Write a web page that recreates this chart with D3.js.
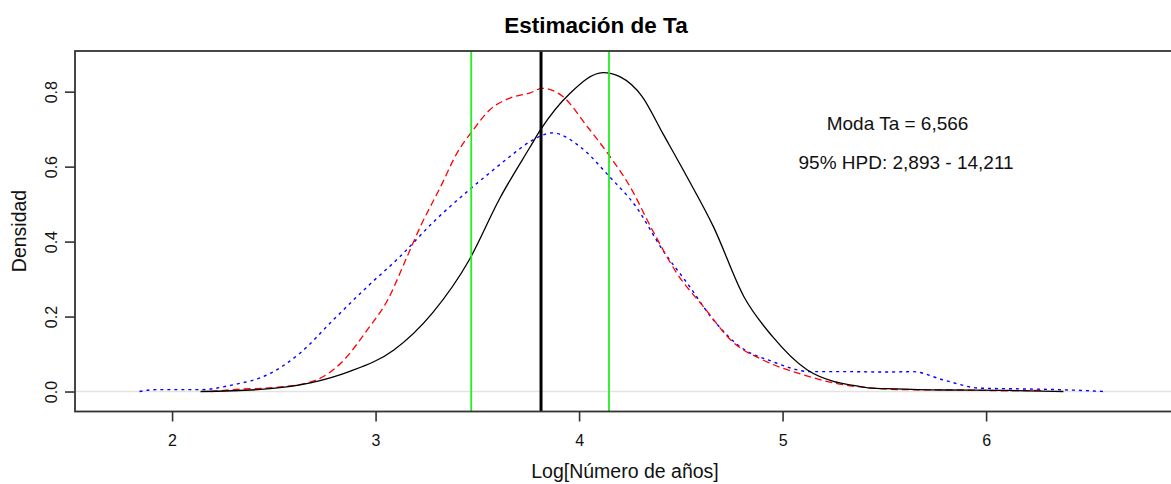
<!DOCTYPE html>
<html>
<head>
<meta charset="utf-8">
<script src="https://cdn.jsdelivr.net/npm/d3@7"></script>
<style>
  body { margin: 0; background: #fff; }
  svg { display: block; font-family: "Liberation Sans", Arial, sans-serif; }
</style>
</head>
<body>
<svg id="chart" width="1171" height="484"></svg>
<script>
// density estimates
const blackX = [2.14, 2.42, 2.68, 2.87, 3.09, 3.28, 3.46, 3.61, 3.76, 3.81, 3.956, 4.118, 4.20, 4.31, 4.41, 4.53, 4.66, 4.81, 4.95, 5.12, 5.25, 5.33, 5.42, 5.55, 5.8, 6.1, 6.38];
const blackY = [0, 0.005, 0.023, 0.053, 0.111, 0.21, 0.351, 0.515, 0.653, 0.698, 0.796, 0.851, 0.84, 0.787, 0.69, 0.573, 0.44, 0.253, 0.147, 0.058, 0.027, 0.018, 0.01, 0.007, 0.004, 0.003, 0];

const redX = [2.19, 2.30, 2.55, 2.71, 2.83, 2.96, 3.06, 3.155, 3.22, 3.32, 3.40, 3.48, 3.56, 3.66, 3.76, 3.82, 3.92, 4.04, 4.14, 4.25, 4.36, 4.48, 4.61, 4.76, 4.90, 5.10, 5.25, 5.42, 5.6, 5.9, 6.1, 6.27];
const redY = [0, 0.005, 0.013, 0.031, 0.076, 0.165, 0.245, 0.36, 0.44, 0.547, 0.636, 0.698, 0.751, 0.783, 0.797, 0.809, 0.787, 0.707, 0.636, 0.547, 0.431, 0.316, 0.227, 0.13, 0.085, 0.045, 0.023, 0.01, 0.005, 0.004, 0.002, 0.003];

const blueX = [1.84, 1.92, 2.14, 2.30, 2.47, 2.63, 2.79, 2.96, 3.12, 3.28, 3.46, 3.56, 3.66, 3.76, 3.87, 4.005, 4.15, 4.28, 4.41, 4.53, 4.66, 4.79, 4.95, 5.14, 5.33, 5.5, 5.64, 5.79, 5.97, 6.17, 6.36, 6.58];
const blueY = [0, 0.005, 0.005, 0.018, 0.045, 0.103, 0.19, 0.28, 0.36, 0.45, 0.538, 0.583, 0.627, 0.667, 0.69, 0.653, 0.573, 0.493, 0.378, 0.29, 0.191, 0.12, 0.08, 0.053, 0.053, 0.052, 0.053, 0.031, 0.009, 0.007, 0.005, 0];

const modeLine = 3.813;
const hpdLines = [3.47, 4.147];

const xTicks = [2, 3, 4, 5, 6];
const yTicks = [0, 0.2, 0.4, 0.6, 0.8];

const title = "Estimación de Ta";
const xLabel = "Log[Número de años]";
const yLabel = "Densidad";
const notes = [
  { text: "Moda Ta = 6,566", x: 5.565, y: 0.715 },
  { text: "95% HPD: 2,893 - 14,211", x: 5.607, y: 0.612 }
];

const svg = d3.select("#chart");
const plotLeft = 75, plotTop = 51, plotBottom = 411.5, plotRight = 1190;

const x = d3.scaleLinear().domain([1.523, 7.002]).range([plotLeft, plotRight]);
const y = d3.scaleLinear().domain([-0.0533, 0.9085]).range([plotBottom, plotTop]);

const toPoints = (xs, ys) => xs.map((v, i) => [v, ys[i]]);
const line = d3.line()
  .x(d => x(d[0]))
  .y(d => y(d[1]))
  .curve(d3.curveMonotoneX);

// zero reference
svg.append("line")
  .attr("x1", plotLeft).attr("x2", plotRight)
  .attr("y1", y(0)).attr("y2", y(0))
  .attr("stroke", "#e3e3e3")
  .attr("stroke-width", 1.5);

svg.append("path")
  .datum(toPoints(blueX, blueY))
  .attr("d", line)
  .attr("fill", "none")
  .attr("stroke", "#0000ff")
  .attr("stroke-width", 1.4)
  .attr("stroke-dasharray", "3,4");

svg.append("path")
  .datum(toPoints(redX, redY))
  .attr("d", line)
  .attr("fill", "none")
  .attr("stroke", "#ff0000")
  .attr("stroke-width", 1.3)
  .attr("stroke-dasharray", "7,4");

svg.append("path")
  .datum(toPoints(blackX, blackY))
  .attr("d", line)
  .attr("fill", "none")
  .attr("stroke", "#000")
  .attr("stroke-width", 1.3);

svg.selectAll(".hpd")
  .data(hpdLines)
  .enter().append("line")
  .attr("class", "hpd")
  .attr("x1", d => x(d)).attr("x2", d => x(d))
  .attr("y1", plotTop).attr("y2", plotBottom)
  .attr("stroke", "#22ee22")
  .attr("stroke-width", 1.8);

svg.append("line")
  .attr("x1", x(modeLine)).attr("x2", x(modeLine))
  .attr("y1", plotTop).attr("y2", plotBottom)
  .attr("stroke", "#000")
  .attr("stroke-width", 3);

// box
svg.append("rect")
  .attr("x", plotLeft).attr("y", plotTop)
  .attr("width", plotRight - plotLeft).attr("height", plotBottom - plotTop)
  .attr("fill", "none")
  .attr("stroke", "#333")
  .attr("stroke-width", 1.8);

const xAxis = svg.append("g")
  .attr("transform", "translate(0," + plotBottom + ")")
  .call(d3.axisBottom(x).tickValues(xTicks).tickSize(10).tickPadding(13).tickFormat(d3.format("d")));
xAxis.select(".domain").remove();
xAxis.selectAll("line").attr("stroke", "#333").attr("stroke-width", 1.6);
xAxis.selectAll("text").attr("font-size", 16).attr("fill", "#111").attr("font-family", null);

const yAxis = svg.append("g")
  .attr("transform", "translate(" + plotLeft + ",0)")
  .call(d3.axisLeft(y).tickValues(yTicks).tickSize(10).tickFormat(d3.format(".1f")));
yAxis.select(".domain").remove();
yAxis.selectAll("line").attr("stroke", "#333").attr("stroke-width", 1.6);
yAxis.selectAll("text")
  .attr("font-size", 16).attr("fill", "#111").attr("font-family", null)
  .attr("transform", "rotate(-90)")
  .attr("x", 0).attr("y", -18.5).attr("dy", 0)
  .attr("text-anchor", "middle");

svg.append("text")
  .attr("x", 596).attr("y", 32.5)
  .attr("text-anchor", "middle")
  .attr("font-size", 22.5).attr("font-weight", "bold")
  .text(title);

svg.append("text")
  .attr("x", 625).attr("y", 478)
  .attr("text-anchor", "middle")
  .attr("font-size", 19.5).attr("fill", "#111")
  .text(xLabel);

svg.append("text")
  .attr("transform", "translate(26,231) rotate(-90)")
  .attr("text-anchor", "middle")
  .attr("font-size", 19.5).attr("fill", "#111")
  .text(yLabel);

svg.selectAll(".note")
  .data(notes)
  .enter().append("text")
  .attr("class", "note")
  .attr("x", d => x(d.x)).attr("y", d => y(d.y))
  .attr("dy", "0.35em")
  .attr("text-anchor", "middle")
  .attr("font-size", 19).attr("fill", "#111")
  .text(d => d.text);
</script>
</body>
</html>
